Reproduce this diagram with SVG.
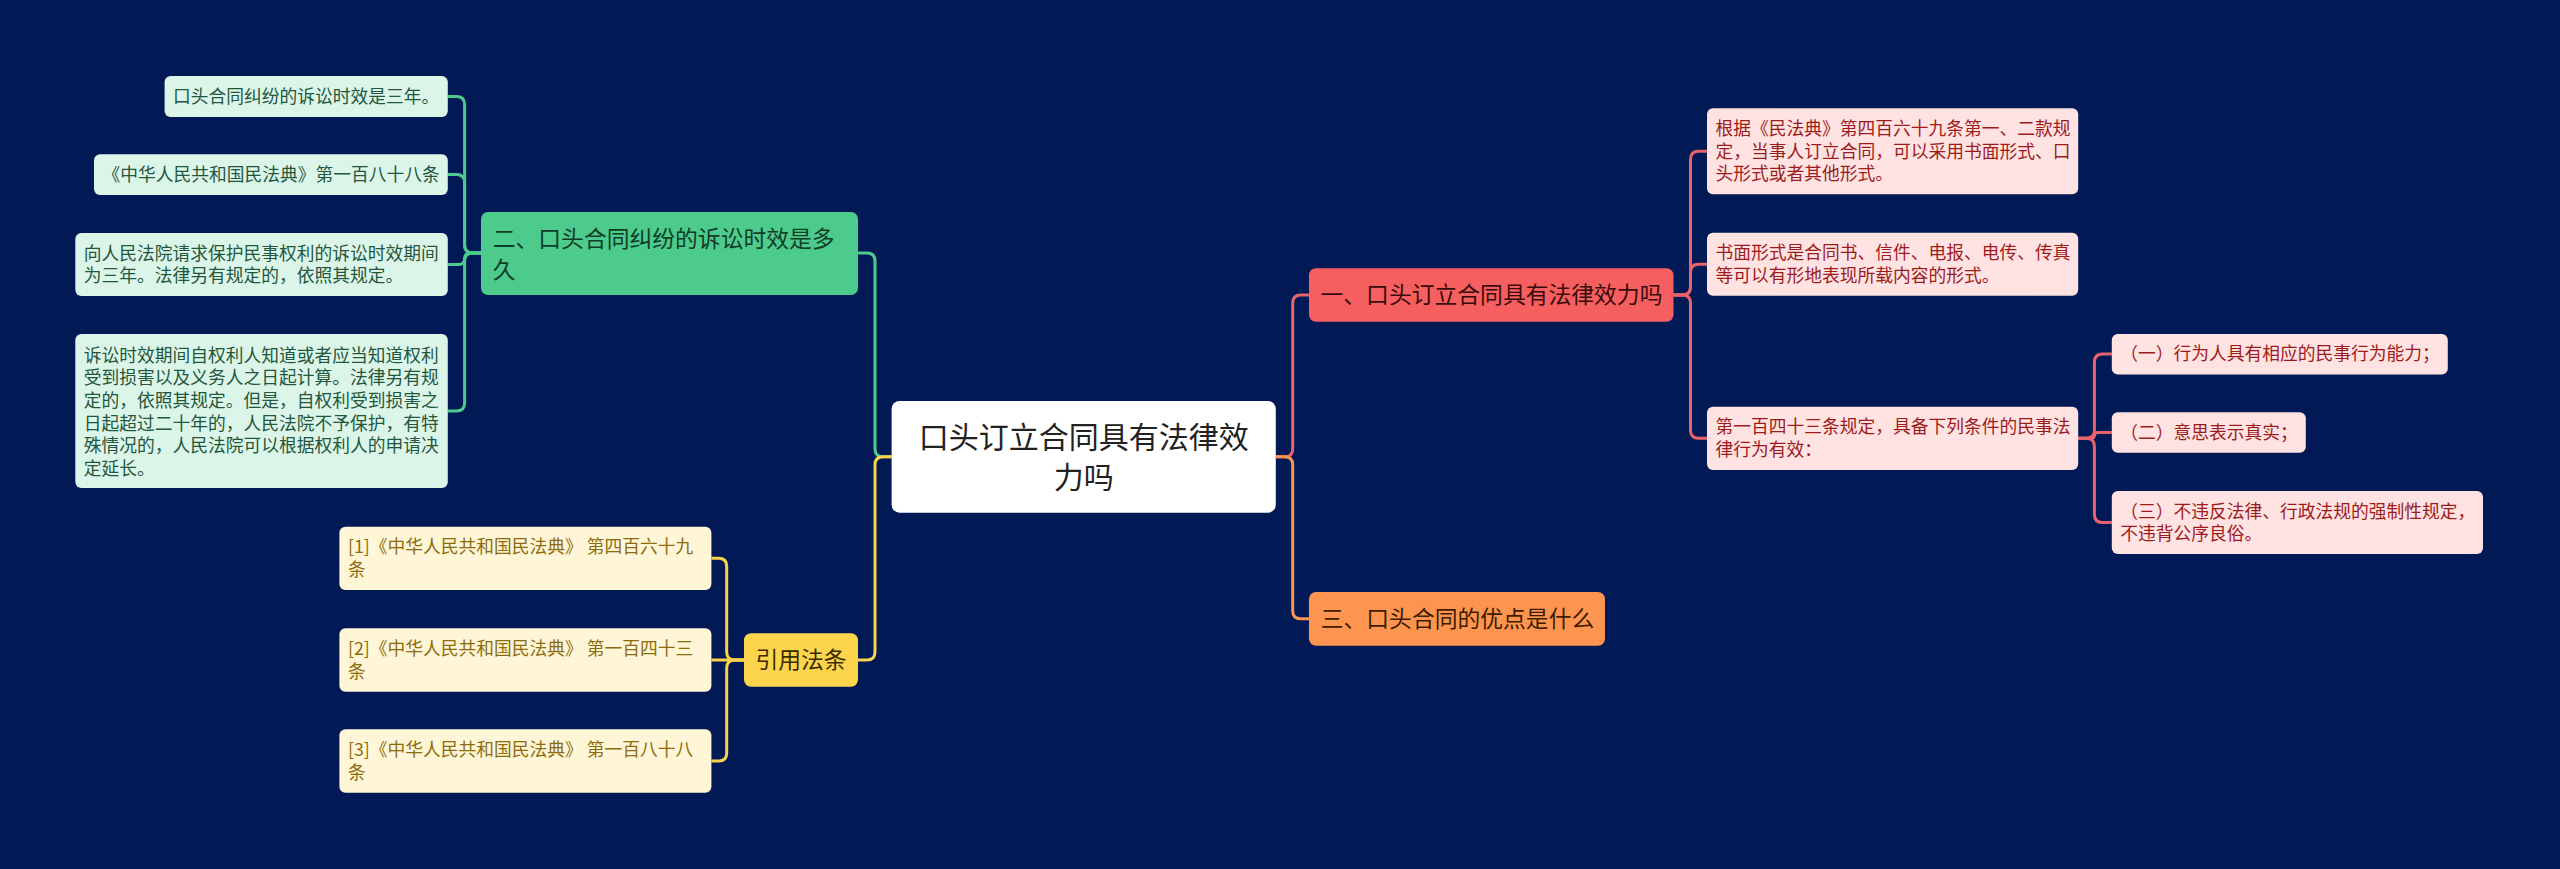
<svg xmlns="http://www.w3.org/2000/svg" width="2560" height="869" viewBox="0 0 2560 869">
<style>
text{font-family:"Noto Sans CJK SC","Noto Sans",sans-serif;}
.leaf{font-size:17.75px;}
.br{font-size:22.8px;}
.rt{font-size:30px;fill:#222;}
.gl rect{fill:#dcf5e9;} .gl text{fill:#23573d;}
.yl rect{fill:#fff6d8;} .yl text{fill:#8c6c0c;}
.rl rect{fill:#ffe3e3;} .rl text{fill:#9c1b1b;}
.c{fill:none;stroke-width:3;}
</style>
<rect width="2560" height="869" fill="#011a55"/>
<g id="connectors">
<path class="c" stroke="#4ccb8d" d="M891.6,456.7 H883 Q875,456.7 875,448.7 V261 Q875,253 867,253 H858"/>
<path class="c" stroke="#f9d34b" d="M891.6,456.7 H883 Q875,456.7 875,464.7 V652 Q875,660 867,660 H858"/>
<path class="c" stroke="#e8636a" d="M1275.8,456.7 H1284.7 Q1292.7,456.7 1292.7,448.7 V303 Q1292.7,295 1300.7,295 H1309"/>
<path class="c" stroke="#fd9550" d="M1275.8,456.7 H1284.7 Q1292.7,456.7 1292.7,464.7 V610.8 Q1292.7,618.8 1300.7,618.8 H1309"/>
<g stroke="#4ccb8d">
<path class="c" d="M481,253 H472.6 Q464.6,253 464.6,245 V104.5 Q464.6,96.5 456.6,96.5 H447.8"/>
<path class="c" d="M481,253 H472.6 Q464.6,253 464.6,245 V182.6 Q464.6,174.6 456.6,174.6 H447.8"/>
<path class="c" d="M481,253 H470.6 Q464.6,253 464.6,259 Q464.6,264.5 458.6,264.5 H447.8"/>
<path class="c" d="M481,253 H472.6 Q464.6,253 464.6,261 V403 Q464.6,411 456.6,411 H447.8"/>
</g>
<g stroke="#f9d34b">
<path class="c" d="M744,660 H734.7 Q726.7,660 726.7,652 V566.3 Q726.7,558.3 718.7,558.3 H711.4"/>
<path class="c" d="M744,660 H711.4"/>
<path class="c" d="M744,660 H734.7 Q726.7,660 726.7,668 V753 Q726.7,761 718.7,761 H711.4"/>
</g>
<g stroke="#e8636a">
<path class="c" d="M1673.5,295 H1682.5 Q1690.5,295 1690.5,287 V159.3 Q1690.5,151.3 1698.5,151.3 H1707"/>
<path class="c" d="M1673.5,295 H1682.5 Q1690.5,295 1690.5,287 V272.2 Q1690.5,264.2 1698.5,264.2 H1707"/>
<path class="c" d="M1673.5,295 H1682.5 Q1690.5,295 1690.5,303 V430.3 Q1690.5,438.3 1698.5,438.3 H1707"/>
<path class="c" d="M2078.2,438.3 H2086.4 Q2094.4,438.3 2094.4,430.3 V362 Q2094.4,354 2102.4,354 H2111.8"/>
<path class="c" d="M2078.2,438.3 H2090.4 Q2094.4,438.3 2094.4,435.4 Q2094.4,432.5 2098.4,432.5 H2111.8"/>
<path class="c" d="M2078.2,438.3 H2086.4 Q2094.4,438.3 2094.4,446.3 V514.5 Q2094.4,522.5 2102.4,522.5 H2111.8"/>
</g>
</g>
<g id="root">
<rect x="891.6" y="401" width="384.2" height="111.7" rx="8" fill="#ffffff"/>
<text class="rt" x="1083.7" y="447.5" text-anchor="middle">口头订立合同具有法律效</text>
<text class="rt" x="1083.7" y="487.5" text-anchor="middle">力吗</text>
</g>
<g id="branch-green">
<rect x="481" y="212" width="377" height="83" rx="7" fill="#4ccb8d"/>
<text class="br" x="492.7" y="246.5" fill="#0f3d26">二、口头合同纠纷的诉讼时效是多</text>
<text class="br" x="492.7" y="278.2" fill="#0f3d26">久</text>
</g>
<g id="branch-yellow">
<rect x="744" y="633.3" width="114" height="53.4" rx="7" fill="#fcd54c"/>
<text class="br" x="801" y="668.2" text-anchor="middle" fill="#3a2c00">引用法条</text>
</g>
<g id="branch-red">
<rect x="1309" y="268.3" width="364.5" height="53.4" rx="7" fill="#f65f5f"/>
<text class="br" x="1320.5" y="303.2" fill="#3b0a0a">一、口头订立合同具有法律效力吗</text>
</g>
<g id="branch-orange">
<rect x="1309" y="592" width="296" height="53.7" rx="7" fill="#fd9550"/>
<text class="br" x="1320.7" y="627" fill="#3d1c00">三、口头合同的优点是什么</text>
</g>
<g id="leaf-a1" class="gl">
<rect x="164.6" y="76" width="283.2" height="41" rx="6"/>
<text class="leaf" x="173" y="102.9">口头合同纠纷的诉讼时效是三年。</text>
</g>
<g id="leaf-a2" class="gl">
<rect x="94" y="154.3" width="353.8" height="40.7" rx="6"/>
<text class="leaf" x="102.5" y="181">《中华人民共和国民法典》第一百八十八条</text>
</g>
<g id="leaf-a3" class="gl">
<rect x="75.3" y="233" width="372.5" height="63" rx="6"/>
<text class="leaf" x="83.8" y="259.6">向人民法院请求保护民事权利的诉讼时效期间</text>
<text class="leaf" x="83.8" y="282.3">为三年。法律另有规定的，依照其规定。</text>
</g>
<g id="leaf-a4" class="gl">
<rect x="75.3" y="334" width="372.5" height="154" rx="6"/>
<text class="leaf" x="83.8" y="361.6">诉讼时效期间自权利人知道或者应当知道权利</text>
<text class="leaf" x="83.8" y="384.3">受到损害以及义务人之日起计算。法律另有规</text>
<text class="leaf" x="83.8" y="407">定的，依照其规定。但是，自权利受到损害之</text>
<text class="leaf" x="83.8" y="429.7">日起超过二十年的，人民法院不予保护，有特</text>
<text class="leaf" x="83.8" y="452.4">殊情况的，人民法院可以根据权利人的申请决</text>
<text class="leaf" x="83.8" y="475.1">定延长。</text>
</g>
<g id="leaf-y1" class="yl">
<rect x="339.4" y="526.7" width="372" height="63.3" rx="6"/>
<text class="leaf" x="348" y="553.3">[1]《中华人民共和国民法典》 第四百六十九</text>
<text class="leaf" x="348" y="576">条</text>
</g>
<g id="leaf-y2" class="yl">
<rect x="339.4" y="628.3" width="372" height="63.4" rx="6"/>
<text class="leaf" x="348" y="655">[2]《中华人民共和国民法典》 第一百四十三</text>
<text class="leaf" x="348" y="677.7">条</text>
</g>
<g id="leaf-y3" class="yl">
<rect x="339.4" y="729.3" width="372" height="63.4" rx="6"/>
<text class="leaf" x="348" y="756">[3]《中华人民共和国民法典》 第一百八十八</text>
<text class="leaf" x="348" y="778.7">条</text>
</g>
<g id="leaf-r1" class="rl">
<rect x="1707" y="108.3" width="371.2" height="86" rx="6"/>
<text class="leaf" x="1715.5" y="135">根据《民法典》第四百六十九条第一、二款规</text>
<text class="leaf" x="1715.5" y="157.7">定，当事人订立合同，可以采用书面形式、口</text>
<text class="leaf" x="1715.5" y="180.4">头形式或者其他形式。</text>
</g>
<g id="leaf-r2" class="rl">
<rect x="1707" y="232.7" width="371.2" height="63" rx="6"/>
<text class="leaf" x="1715.5" y="259.3">书面形式是合同书、信件、电报、电传、传真</text>
<text class="leaf" x="1715.5" y="282">等可以有形地表现所载内容的形式。</text>
</g>
<g id="leaf-r3" class="rl">
<rect x="1707" y="406.7" width="371.2" height="63.3" rx="6"/>
<text class="leaf" x="1715.5" y="433.3">第一百四十三条规定，具备下列条件的民事法</text>
<text class="leaf" x="1715.5" y="456">律行为有效：</text>
</g>
<g id="leaf-s1" class="rl">
<rect x="2111.8" y="334" width="336" height="40.5" rx="6"/>
<text class="leaf" x="2120.3" y="360.4">（一）行为人具有相应的民事行为能力；</text>
</g>
<g id="leaf-s2" class="rl">
<rect x="2111.8" y="412.3" width="194" height="40.4" rx="6"/>
<text class="leaf" x="2120.3" y="438.9">（二）意思表示真实；</text>
</g>
<g id="leaf-s3" class="rl">
<rect x="2111.8" y="491" width="371.2" height="63" rx="6"/>
<text class="leaf" x="2120.3" y="517.6">（三）不违反法律、行政法规的强制性规定，</text>
<text class="leaf" x="2120.3" y="540.3">不违背公序良俗。</text>
</g>
</svg>
